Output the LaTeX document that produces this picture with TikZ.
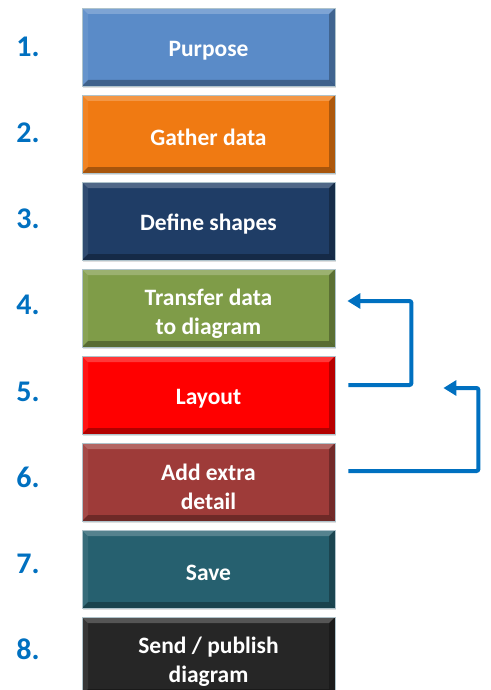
\documentclass[tikz,border=0pt]{standalone}
\usepackage{fontspec}
\setmainfont{Carlito}
\usetikzlibrary{positioning,calc,shadows,arrows.meta}
\definecolor{numblue}{HTML}{0070C0}
\definecolor{cPurpose}{HTML}{5A8BC8}
\definecolor{cGather}{HTML}{F07A12}
\definecolor{cShapes}{HTML}{1F3D66}
\definecolor{cTransfer}{HTML}{7F9C48}
\definecolor{cLayout}{HTML}{FF0000}
\definecolor{cExtra}{HTML}{9E3B39}
\definecolor{cSave}{HTML}{26606F}
\definecolor{cSend}{HTML}{262626}
\tikzstyle{stepbox}=[minimum width=253pt,minimum height=78pt,inner sep=0pt,
	draw=cyan!25!gray!60,line width=0.8pt,text=white,align=center,
	font=\fontsize{23.5}{29}\selectfont\bfseries,
	execute at begin node={\rule{0pt}{23pt}},
	drop shadow={opacity=.25,shadow xshift=1pt,shadow yshift=-2pt},
	path picture={
		\fill[white,opacity=.22] (path picture bounding box.north west) -- (path picture bounding box.north east)
			-- ++(-6pt,-6pt) -- ($(path picture bounding box.north west)+(6pt,-6pt)$) -- cycle;
		\fill[white,opacity=.08] (path picture bounding box.north west) -- (path picture bounding box.south west)
			-- ++(6pt,6pt) -- ($(path picture bounding box.north west)+(6pt,-6pt)$) -- cycle;
		\fill[black,opacity=.28] (path picture bounding box.north east) -- (path picture bounding box.south east)
			-- ++(-6pt,6pt) -- ($(path picture bounding box.north east)+(-6pt,-6pt)$) -- cycle;
		\fill[black,opacity=.3] (path picture bounding box.south west) -- (path picture bounding box.south east)
			-- ++(-6pt,6pt) -- ($(path picture bounding box.south west)+(6pt,6pt)$) -- cycle;
	}]
\tikzstyle{twolines}=[execute at begin node={\rule{0pt}{56pt}}]
\tikzstyle{stepnum}=[text=numblue,font=\fontsize{30}{32}\selectfont\bfseries]
\tikzstyle{loopback}=[draw=numblue,line width=4pt,rounded corners=2pt,-{Triangle[length=13pt,width=15pt]}]

\begin{document}
\begin{tikzpicture}[x=1pt,y=-1pt,node distance=8.2pt]
	\useasboundingbox (0,0) rectangle (490,690);
	\clip (0,0) rectangle (490,690);
	% the steps
	\node[stepbox,fill=cPurpose] (b1) at (208.5,47) {Purpose};
	\node[stepbox,fill=cGather,below=of b1] (b2) {Gather data};
	\node[stepbox,fill=cShapes,below=of b2] (b3) {Define shapes};
	\node[stepbox,twolines,fill=cTransfer,below=of b3] (b4) {Transfer data\\to diagram};
	\node[stepbox,fill=cLayout,below=of b4] (b5) {Layout};
	\node[stepbox,twolines,fill=cExtra,below=of b5] (b6) {Add extra\\detail};
	\node[stepbox,fill=cSave,below=of b6] (b7) {Save};
	\node[stepbox,twolines,fill=cSend,below=of b7] (b8) {Send / publish\\diagram};
	% numbers
	\foreach \i in {1,...,8}
		\node[stepnum] (n\i) at (28,{47+86.1*(\i-1)}) {\i.};
	% going back
	\coordinate (a1s) at ($(b5.east)+(13,-10)$);
	\coordinate (a1e) at ($(b4.east)+(12,-7)$);
	\coordinate (a2s) at ($(b6.east)+(13,-11)$);
	\coordinate (a2e) at ($(b5.east)+(108,-7)$);
	\draw[loopback] (a1s) -- ++(63,0) |- (a1e);
	\draw[loopback] (a2s) -- ++(130,0) |- (a2e);
\end{tikzpicture}
\end{document}
